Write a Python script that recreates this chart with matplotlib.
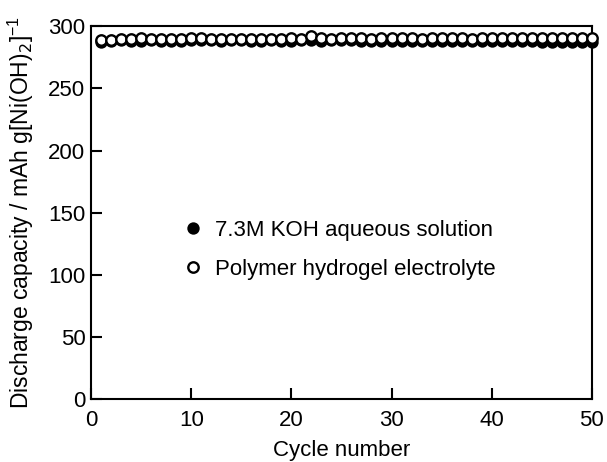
"""
Discharge capacity vs cycle number for KOH solution and polymer hydrogel electrolyte.
"""

import matplotlib.pyplot as plt
import numpy as np

plt.rcParams['font.family'] = ['Liberation Sans', 'DejaVu Sans']

#---------------------------------------
# Data
#---------------------------------------
cycles = list(range(1, 51))

koh_capacity = [287, 288, 289, 288, 288, 289, 288, 288, 288, 289,
                289, 289, 288, 289, 289, 288, 288, 289, 288, 288,
                289, 289, 288, 289, 289, 289, 288, 288, 288, 288,
                288, 288, 288, 288, 288, 288, 288, 288, 288, 288,
                288, 288, 288, 288, 287, 287, 287, 287, 287, 287]

hydrogel_capacity = [289, 289, 290, 290, 291, 290, 290, 290, 290, 291,
                     291, 290, 290, 290, 290, 290, 290, 290, 290, 291,
                     290, 292, 291, 290, 291, 291, 291, 290, 291, 291,
                     291, 291, 290, 291, 291, 291, 291, 290, 291, 291,
                     291, 291, 291, 291, 291, 291, 291, 291, 291, 291]

legend_labels = ["7.3M KOH aqueous solution", "Polymer hydrogel electrolyte"]

#---------------------------------------
# Plot
#---------------------------------------
fig = plt.figure(figsize=(6.07, 4.62), dpi=100)
ax = fig.add_axes([0.150, 0.136, 0.825, 0.807])

ax.plot(cycles, koh_capacity, linestyle='none', marker='o', markersize=7.5,
        markerfacecolor='black', markeredgecolor='black', markeredgewidth=1.4,
        label=legend_labels[0], clip_on=False, zorder=3)
ax.plot(cycles, hydrogel_capacity, linestyle='none', marker='o', markersize=7.5,
        markerfacecolor='white', markeredgecolor='black', markeredgewidth=1.7,
        label=legend_labels[1], clip_on=False, zorder=4)

ax.set_xlim(0, 50)
ax.set_ylim(0, 300)
ax.set_xticks(np.arange(0, 51, 10))
ax.set_yticks(np.arange(0, 301, 50))

ax.tick_params(axis='both', direction='in', length=8, width=1.5, labelsize=16,
               top=False, right=False, pad=4)
ax.tick_params(axis='x', pad=8)
for side in ['left', 'bottom', 'right', 'top']:
    ax.spines[side].set_linewidth(1.5)

ax.set_xlabel('Cycle number', fontsize=16, labelpad=6)
ax.set_ylabel(r'Discharge capacity / mAh g[Ni(OH)$_2$]$^{\mathregular{-1}}$', fontsize=16.5, labelpad=9)

ax.legend(loc='center left', bbox_to_anchor=(0.163, 0.401), frameon=False, fontsize=16,
          handlelength=1.0, handletextpad=0.5, labelspacing=0.8, borderaxespad=0,
          borderpad=0.4)

plt.savefig('out.png', dpi=100)
